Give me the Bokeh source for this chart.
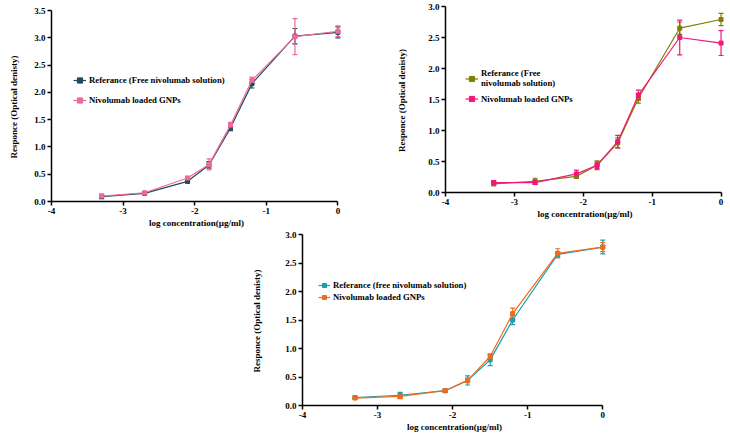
from bokeh.plotting import figure
from bokeh.models import (ColumnDataSource, Whisker, TeeHead, Legend, LegendItem,
                          Spacer, FixedTicker, CustomJSTickFormatter)
from bokeh.layouts import column, row
from bokeh.embed import file_html
from bokeh.resources import INLINE

log_conc = [-3.3, -2.7, -2.1, -1.8, -1.5, -1.2, -0.6, 0.0]

# Panel A
a_ref = [0.09, 0.15, 0.37, 0.67, 1.35, 2.16, 3.03, 3.10]
a_ref_err = [0.04, 0.02, 0.03, 0.06, 0.05, 0.08, 0.14, 0.10]
a_gnp = [0.10, 0.16, 0.43, 0.68, 1.40, 2.22, 3.02, 3.12]
a_gnp_err = [0.03, 0.02, 0.03, 0.10, 0.05, 0.06, 0.33, 0.10]

# Panel B
b_ref = [0.14, 0.18, 0.26, 0.44, 0.80, 1.52, 2.65, 2.79]
b_ref_err = [0.03, 0.05, 0.03, 0.07, 0.08, 0.08, 0.10, 0.10]
b_gnp = [0.16, 0.16, 0.30, 0.44, 0.82, 1.57, 2.50, 2.41]
b_gnp_err = [0.03, 0.03, 0.06, 0.05, 0.10, 0.08, 0.28, 0.20]

# Panel C
c_ref = [0.14, 0.18, 0.26, 0.44, 0.80, 1.50, 2.65, 2.78]
c_ref_err = [0.02, 0.05, 0.03, 0.08, 0.10, 0.08, 0.05, 0.12]
c_gnp = [0.13, 0.16, 0.26, 0.44, 0.86, 1.61, 2.67, 2.78]
c_gnp_err = [0.02, 0.04, 0.02, 0.04, 0.04, 0.10, 0.08, 0.08]

x_ticks = [-4, -3, -2, -1, 0]
FONT = "Liberation Serif"
XLABEL = "log concentration(\u00b5g/ml)"
YLABEL = "Responce  (Optical denisty)"


def make_panel(width, height, ymax, yticks, borders, ylabel_standoff,
               series, labels, colors, legend_loc, legend_cfg):
    left, right, top, bottom = borders
    p = figure(width=width, height=height, x_range=(-4, 0.05), y_range=(0, ymax),
               output_backend="svg", toolbar_location=None,
               min_border_left=left, min_border_right=right,
               min_border_top=top, min_border_bottom=bottom)
    p.outline_line_color = None
    p.grid.visible = False
    for ax in (p.xaxis[0], p.yaxis[0]):
        ax.axis_line_color = "black"
        ax.axis_line_width = 1.5
        ax.major_tick_line_color = "black"
        ax.major_tick_line_width = 1.5
        ax.major_tick_in = 0
        ax.major_tick_out = 4
        ax.minor_tick_line_color = None
        ax.major_label_text_font = FONT
        ax.major_label_text_font_style = "bold"
        ax.major_label_text_font_size = "9px"
        ax.major_label_text_color = "black"
        ax.axis_label_text_font = FONT
        ax.axis_label_text_font_style = "bold"
        ax.axis_label_text_font_size = "9px"
        ax.axis_label_text_color = "black"
        ax.major_label_standoff = 2
    p.xaxis.bounds = (-4, 0)
    p.xaxis.ticker = FixedTicker(ticks=x_ticks)
    p.yaxis.ticker = FixedTicker(ticks=yticks)
    p.xaxis.formatter = CustomJSTickFormatter(code="return tick.toFixed(0);")
    p.yaxis.formatter = CustomJSTickFormatter(code="return tick.toFixed(1);")
    p.xaxis.axis_label = XLABEL
    p.yaxis.axis_label = YLABEL
    p.xaxis.axis_label_standoff = 1
    p.yaxis.axis_label_standoff = ylabel_standoff

    items = []
    for (vals, errs), lab, col in zip(series, labels, colors):
        src = ColumnDataSource(dict(x=log_conc, y=vals,
                                    upper=[v + e for v, e in zip(vals, errs)],
                                    lower=[v - e for v, e in zip(vals, errs)]))
        w = Whisker(source=src, base="x", upper="upper", lower="lower",
                    line_color=col, line_width=1.2,
                    upper_head=TeeHead(size=5, line_color=col, line_width=1.2),
                    lower_head=TeeHead(size=5, line_color=col, line_width=1.2))
        p.add_layout(w)
        r1 = p.line("x", "y", source=src, line_color=col, line_width=1.2)
        r2 = p.scatter("x", "y", source=src, marker="square", size=4,
                       fill_color=col, line_color=col)
        items.append(LegendItem(label=lab, renderers=[r1, r2]))

    gw, gh, sp, fs = legend_cfg
    leg = Legend(items=items, location=legend_loc, padding=0, margin=0,
                 spacing=sp, glyph_width=gw, glyph_height=gh, label_height=gh,
                 label_standoff=3, border_line_color=None,
                 background_fill_alpha=0.0,
                 label_text_font=FONT, label_text_font_style="bold",
                 label_text_font_size=fs, label_text_color="black")
    p.add_layout(leg, "center")
    return p


p1 = make_panel(365, 230, 3.5, [0, 0.5, 1, 1.5, 2, 2.5, 3, 3.5],
                (51, 24, 10, 28), 12,
                [(a_ref, a_ref_err), (a_gnp, a_gnp_err)],
                ["Referance (Free nivolumab solution)", "Nivolumab loaded GNPs"],
                ["#1d4b5c", "#f2689a"], (22, 94), (13, 14, 6, "8.7px"))

p2 = make_panel(365, 230, 3.0, [0, 0.5, 1, 1.5, 2, 2.5, 3],
                (80, 6, 6, 38), 18,
                [(b_ref, b_ref_err), (b_gnp, b_gnp_err)],
                ["Referance (Free\nnivolumab solution)", "Nivolumab loaded GNPs"],
                ["#7f7f00", "#f2167a"], (20, 87), (13, 13, 4, "8.7px"))

p3 = make_panel(367, 204, 3.0, [0, 0.5, 1, 1.5, 2, 2.5, 3],
                (57, 6, 4, 28), 20,
                [(c_ref, c_ref_err), (c_gnp, c_gnp_err)],
                ["Referance (free nivolumab solution)", "Nivolumab loaded GNPs"],
                ["#1a9fae", "#f26a1b"], (16, 103), (12, 10, 2, "8.7px"))

layout = column(row(column(p1), column(p2)),
                row(Spacer(width=245, height=204), column(p3)))

with open("out.html", "w") as f:
    f.write(file_html(layout, INLINE))
